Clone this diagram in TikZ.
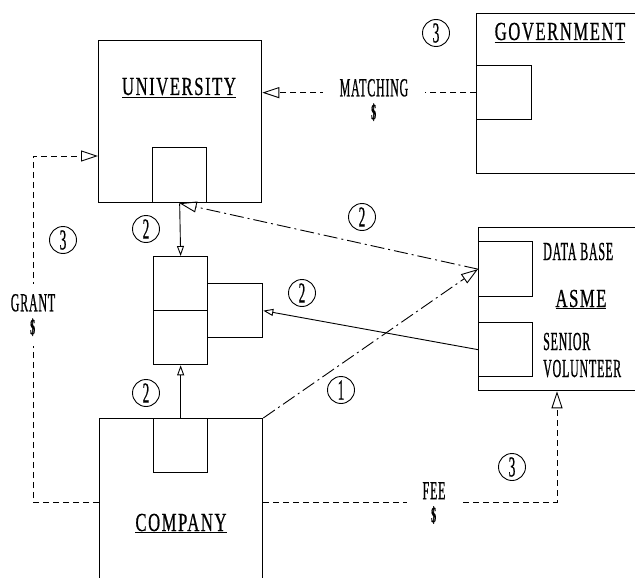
\documentclass[tikz,border=0pt]{standalone}
\usepackage{fontspec}
\setmainfont{Liberation Serif}
\newfontfamily\titlefont{Liberation Serif}[FakeStretch=0.64,LetterSpace=6,FakeBold=0.6]
\newfontfamily\tagfont{Liberation Serif}[FakeStretch=0.46,LetterSpace=3,FakeBold=0.6]
\usetikzlibrary{arrows.meta,positioning}

\tikzset{
  box/.style={draw, line width=1.3pt, inner sep=0pt, anchor=north west},
  dashline/.style={line width=0.9pt, dash pattern=on 6pt off 4pt},
  dashdotline/.style={line width=0.9pt, dash pattern=on 14pt off 4pt on 2pt off 4pt},
  solidline/.style={line width=0.9pt},
  bigtip/.style={-{Triangle[open, length=17pt, width=11pt]}},
  smalltip/.style={-{Triangle[open, length=10pt, width=7pt]}},
  numtag/.style={circle, draw, line width=0.9pt, minimum size=27pt, inner sep=0pt,
    font=\tagfont\fontsize{29}{29}\selectfont},
  title/.style={font=\titlefont\fontsize{26}{26}\selectfont, inner sep=0pt, anchor=base},
  flowtext/.style={font=\tagfont\fontsize{26}{26}\selectfont, align=center, fill=white},
  plaintext/.style={font=\tagfont\fontsize{26}{27}\selectfont, inner sep=0pt, anchor=base west, align=left}
}
\newcommand{\cash}{{\fontsize{22}{22}\selectfont\textbf{\$}}}

\begin{document}
\begin{tikzpicture}[x=1pt, y=-1pt]
    \useasboundingbox (0,0) rectangle (635,578);
    \clip (0,0) rectangle (635,578);

    % University
    \node[box, minimum width=163pt, minimum height=162pt] (uni) at (98,40) {};
    \node[box, minimum width=54pt, minimum height=55pt] (unibox) at (152,147) {};
    \node[title] (unititle) at (179,95) {\underline{UNIVERSITY}};

    % Government
    \node[box, minimum width=170pt, minimum height=160pt] (govt) at (476,13) {};
    \node[box, minimum width=55pt, minimum height=54pt] (govtbox) at (476,65) {};
    \node[title] (govttitle) at (560,40) {\underline{GOVERNMENT}};

    % ASME
    \node[box, minimum width=170pt, minimum height=163pt] (asme) at (478,227) {};
    \node[box, minimum width=54pt, minimum height=55pt] (dbbox) at (478,241) {};
    \node[box, minimum width=54pt, minimum height=54pt] (svbox) at (478,322) {};
    \node[plaintext] (dbtext) at (543,260) {DATA BASE};
    \node[title] (asmetitle) at (581,307) {\underline{ASME}};
    \node[plaintext] (svtext) at (543,377) {SENIOR\\VOLUNTEER};

    % Middle stack
    \node[box, minimum width=54pt, minimum height=108pt] (mid) at (153,256) {};
    \draw[line width=1.3pt] (mid.west) -- (mid.east);
    \node[box, minimum width=55pt, minimum height=54pt] (side) at (207,283) {};

    % Company
    \node[box, minimum width=163pt, minimum height=200pt] (comp) at (99,418) {};
    \node[box, minimum width=54pt, minimum height=54pt] (compbox) at (153,418) {};
    \node[title] (comptitle) at (181,531) {\underline{COMPANY}};

    % Money flows
    \draw[dashline, bigtip] (govtbox.west) -- (govtbox.west -| uni.east);
    \draw[dashline, bigtip] ([yshift=-84pt]comp.north west) -- ++(-66,0) |- ([yshift=-116pt]uni.north west);
    \draw[dashline, bigtip] ([yshift=-84pt]comp.north east) -| ([xshift=79pt]asme.south west);

    % Services
    \draw[dashdotline, bigtip] (dbbox.west) -- (unibox.south);
    \draw[dashdotline, bigtip] (comp.north east) -- (dbbox.west);
    \draw[solidline, smalltip] (svbox.west) -- (side.east);
    \draw[solidline, smalltip] (unibox.south) -- (mid.north);
    \draw[solidline, smalltip] (compbox.north) -- (mid.south);

    % Labels on the flows
    \node[flowtext, inner xsep=17pt, inner ysep=2pt] (matching) at (374,100) {MATCHING\\[-3pt]\cash};
    \node[flowtext, inner xsep=4pt, inner ysep=10pt] (grant) at (33,315) {GRANT\\[-3pt]\cash};
    \node[flowtext, inner xsep=16pt, inner ysep=2pt] (fee) at (434,503) {FEE\\[-3pt]\cash};

    % Circled numbers
    \node[numtag] (tag1) at (436,33) {3};
    \node[numtag] (tag2) at (146,229) {2};
    \node[numtag] (tag3) at (63,240) {3};
    \node[numtag] (tag4) at (362,217) {2};
    \node[numtag] (tag5) at (302,293) {2};
    \node[numtag] (tag6) at (146,393) {2};
    \node[numtag] (tag7) at (341,390) {1};
    \node[numtag] (tag8) at (512,467) {3};
\end{tikzpicture}
\end{document}
